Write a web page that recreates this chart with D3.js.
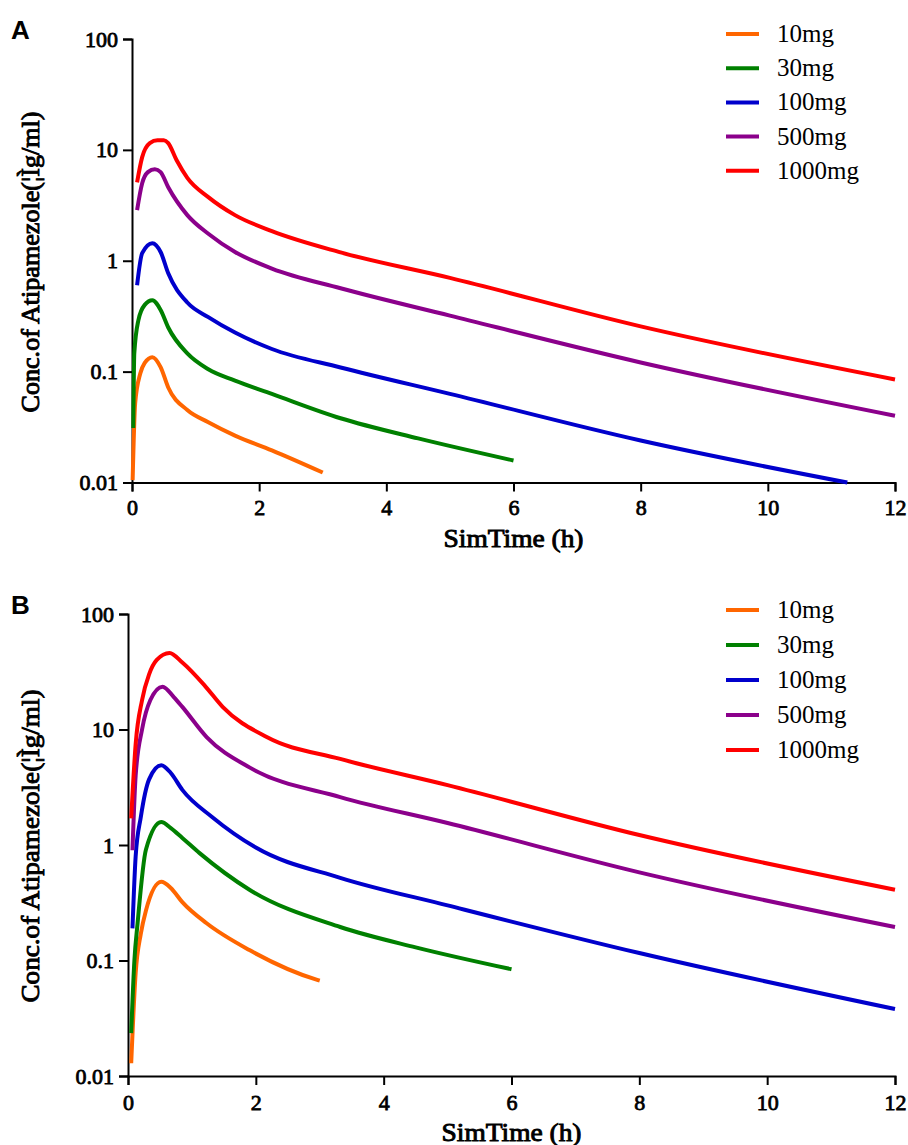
<!DOCTYPE html>
<html>
<head>
<meta charset="utf-8">
<script src="https://cdn.jsdelivr.net/npm/d3@7"></script>
<style>
  body { margin: 0; background: #fff; }
  svg text { fill: #000; }
  .tick-label { font-family: "Liberation Serif", serif; font-weight: normal; font-size: 22px; stroke: #000; stroke-width: 0.8px; }
  .axis-title { font-family: "Liberation Serif", serif; font-weight: normal; font-size: 25px; stroke: #000; stroke-width: 0.9px; }
  .legend-label { font-family: "Liberation Serif", serif; font-size: 25px; }
  .panel-label { font-family: "Liberation Sans", Arial, sans-serif; font-weight: bold; font-size: 26px; }
</style>
</head>
<body>
<svg id="chart" width="908" height="1145"></svg>
<script>
// dose groups and colours
var doses = ["10mg", "30mg", "100mg", "500mg", "1000mg"];
var doseColors = ["#ff6600", "#008000", "#0000cc", "#8b008b", "#ff0000"];

var xTicks = [0, 2, 4, 6, 8, 10, 12];
var yTicks = [0.01, 0.1, 1, 10, 100];
var yTickLabels = ["0.01", "0.1", "1", "10", "100"];

var xTitle = "SimTime (h)";
var yTitle = "Conc.of Atipamezole(¦Ìg/ml)";

// panel A: [time h, conc]
var a10 = [[0.01,0.0105],[0.05,0.052],[0.13,0.096],[0.2,0.12],[0.32,0.135],[0.45,0.11],[0.57,0.072],[0.87,0.045],[1.2,0.035],[1.62,0.0265],[2.2,0.0195],[3,0.0123]];
var a30 = [[0.02,0.031],[0.036,0.146],[0.1,0.29],[0.2,0.40],[0.32,0.44],[0.45,0.36],[0.57,0.25],[0.87,0.146],[1.2,0.105],[1.62,0.083],[2.2,0.063],[3.28,0.038],[4.5,0.025],[6,0.0158]];
var a100 = [[0.08,0.60],[0.16,1.17],[0.32,1.44],[0.45,1.2],[0.57,0.77],[0.87,0.42],[1.2,0.31],[1.62,0.225],[2.2,0.16],[3.28,0.109],[5,0.063],[8,0.0239],[11.25,0.01]];
var a500 = [[0.08,2.86],[0.16,5.0],[0.25,6.3],[0.36,6.7],[0.45,6.3],[0.57,4.6],[0.87,2.58],[1.2,1.75],[1.62,1.2],[2.2,0.85],[3.28,0.565],[5,0.32],[8,0.121],[12,0.040]];
var a1000 = [[0.08,5.1],[0.16,8.6],[0.28,11.5],[0.4,12.2],[0.5,12.2],[0.57,11.5],[0.7,8.1],[0.87,5.6],[1.2,3.75],[1.62,2.58],[2.2,1.85],[3.28,1.19],[5,0.7],[8,0.256],[12,0.085]];

// panel B: [time h, conc]
var b10 = [[0.05,0.0129],[0.12,0.078],[0.2,0.17],[0.28,0.27],[0.52,0.48],[0.67,0.425],[0.85,0.32],[1.23,0.21],[1.9,0.123],[2.96,0.068],[3,0.067]];
var b30 = [[0.05,0.0235],[0.1,0.1],[0.15,0.21],[0.28,0.91],[0.52,1.58],[0.67,1.4],[0.85,1.15],[1.12,0.85],[1.9,0.41],[3.32,0.195],[4.5,0.13],[6,0.084]];
var b100 = [[0.07,0.19],[0.12,0.8],[0.2,1.74],[0.33,3.7],[0.52,4.9],[0.67,4.2],[0.85,3.0],[1.32,1.74],[2.0,0.95],[3.32,0.52],[5,0.3],[8,0.116],[12,0.038]];
var b500 = [[0.07,0.9],[0.12,4],[0.22,10],[0.35,18],[0.54,23.5],[0.72,19],[0.85,15.7],[1.23,8.6],[1.9,4.7],[3.32,2.6],[5,1.55],[8,0.58],[12,0.195]];
var b1000 = [[0.05,1.7],[0.12,7.5],[0.22,18],[0.33,30],[0.45,40],[0.65,46],[0.85,38],[1.2,24],[1.48,15.7],[2.17,8.6],[3.32,5.56],[5,3.3],[8,1.22],[12,0.41]];

var svg = d3.select("#chart");

function drawPanel(p) {
    var g = svg.append("g");
    var x = d3.scaleLinear().domain([0, 12]).range([p.x0, p.x1]);
    var y = d3.scaleLog().domain([0.01, 100]).range([p.y0, p.y1]);

    // axes
    var yAxis = d3.axisLeft(y).tickValues(yTicks).tickSize(9).tickPadding(5)
        .tickFormat(function(d, i){ return yTickLabels[i]; });
    var xAxis = d3.axisBottom(x).tickValues(xTicks).tickSize(9).tickPadding(p.xPad);

    var ya = g.append("g").attr("transform", "translate(" + p.x0 + ",0)").call(yAxis);
    var xa = g.append("g").attr("transform", "translate(0," + p.y0 + ")").call(xAxis);
    [ya, xa].forEach(function(a){
        a.attr("font-size", null).attr("font-family", null);
        a.select(".domain").attr("stroke", "#000").attr("stroke-width", 2);
        a.selectAll(".tick line").attr("stroke", "#000").attr("stroke-width", 2);
        a.selectAll(".tick text").attr("class", "tick-label");
    });

    var line = d3.line()
        .x(function(d){ return x(d[0]); })
        .y(function(d){ return y(d[1]); })
        .curve(d3.curveMonotoneX);

    p.series.forEach(function(s, i){
        g.append("path")
            .datum(s)
            .attr("d", line)
            .attr("fill", "none")
            .attr("stroke", doseColors[i])
            .attr("stroke-width", 4);
    });

    // titles
    g.append("text")
        .attr("class", "axis-title")
        .attr("x", (p.x0 + p.x1) / 2)
        .attr("y", p.xTitleY)
        .attr("text-anchor", "middle")
        .attr("textLength", 140)
        .attr("lengthAdjust", "spacingAndGlyphs")
        .text(xTitle);

    g.append("text")
        .attr("class", "axis-title")
        .attr("transform", "translate(" + p.yTitleX + "," + p.yTitleCY + ") rotate(-90)")
        .attr("text-anchor", "middle")
        .attr("dy", "0.35em")
        .attr("textLength", p.yTitleLen)
        .attr("lengthAdjust", "spacingAndGlyphs")
        .text(yTitle);

    g.append("text")
        .attr("class", "panel-label")
        .attr("x", 11)
        .attr("y", p.letterY)
        .text(p.letter);

    // legend
    doses.forEach(function(name, i){
        var ly = p.legendY + i * p.legendStep;
        g.append("line")
            .attr("x1", 726).attr("x2", 759)
            .attr("y1", ly).attr("y2", ly)
            .attr("stroke", doseColors[i])
            .attr("stroke-width", 4);
        g.append("text")
            .attr("class", "legend-label")
            .attr("x", 777)
            .attr("y", ly + 8)
            .text(name);
    });
}

drawPanel({
    letter: "A", letterY: 39,
    x0: 132, x1: 895, y0: 482.5, y1: 39, xPad: 8,
    xTitleY: 547, yTitleX: 30, yTitleCY: 262, yTitleLen: 301,
    legendY: 34, legendStep: 34.2,
    series: [a10, a30, a100, a500, a1000]
});

drawPanel({
    letter: "B", letterY: 614,
    x0: 128, x1: 895, y0: 1076, y1: 614, xPad: 9,
    xTitleY: 1141, yTitleX: 30, yTitleCY: 846, yTitleLen: 313,
    legendY: 610, legendStep: 35,
    series: [b10, b30, b100, b500, b1000]
});
</script>
</body>
</html>
